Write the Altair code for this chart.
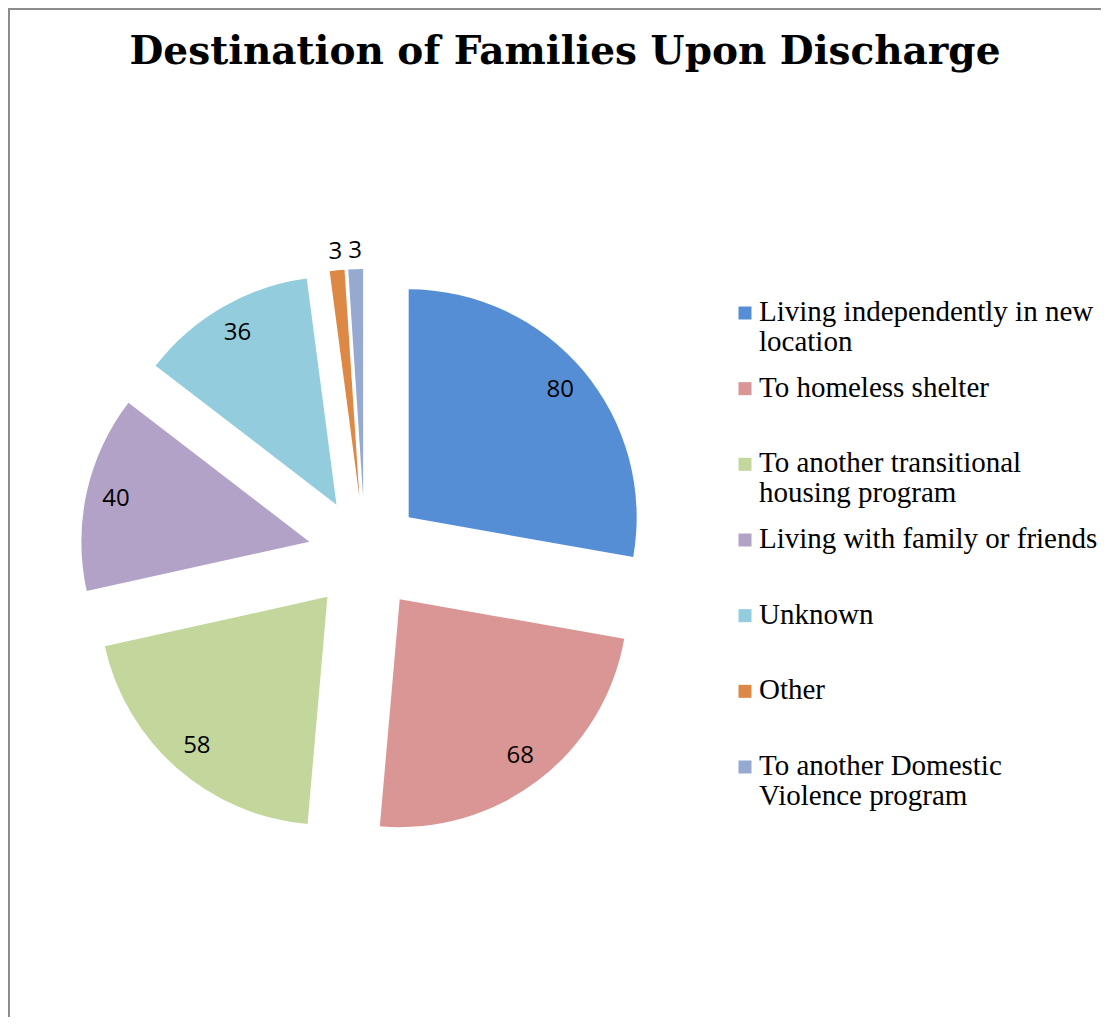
import altair as alt
import pandas as pd

title_text = "Destination of Families Upon Discharge"
categories = [
    "Living independently in new\nlocation",
    "To homeless shelter",
    "To another transitional\nhousing program",
    "Living with family or friends",
    "Unknown",
    "Other",
    "To another Domestic\nViolence program",
]
values = [80, 68, 58, 40, 36, 3, 3]
colors = ["#558ED5", "#D99694", "#C3D69B", "#B3A2C7", "#93CDDD", "#DD8844", "#95A9D1"]

W, H = 1093, 1009
CX, CY, R, EXPLODE = 357, 546, 228, 57
LABEL_IN, LABEL_OUT = 198, 246

df = pd.DataFrame({"cat": categories, "value": values, "order": list(range(len(values)))})

base = (
    alt.Chart(df)
    .transform_window(cum="sum(value)", sort=[alt.SortField("order")], frame=[None, 0])
    .transform_joinaggregate(total="sum(value)")
    .transform_calculate(
        t1="datum.cum / datum.total * 2 * PI",
        t0="(datum.cum - datum.value) / datum.total * 2 * PI",
    )
    .transform_calculate(mid="(datum.t0 + datum.t1) / 2")
    .transform_calculate(
        cx=f"{CX} + {EXPLODE} * sin(datum.mid)",
        cy=f"{CY} - {EXPLODE} * cos(datum.mid)",
        lr=f"datum.value < 10 ? {LABEL_OUT} : {LABEL_IN}",
    )
    .transform_calculate(
        lx="datum.cx + datum.lr * sin(datum.mid)",
        ly="datum.cy - datum.lr * cos(datum.mid)",
    )
)

color_scale = alt.Scale(domain=categories, range=colors)

arcs = base.mark_arc(radius=R).encode(
    x=alt.X("cx:Q", scale=None, axis=None),
    y=alt.Y("cy:Q", scale=None, axis=None),
    theta=alt.Theta("t0:Q", scale=None, stack=None),
    theta2="t1:Q",
    color=alt.Color("cat:N", scale=color_scale, legend=None),
)

labels = base.mark_text(
    font="Open Sans", fontSize=24, color="black", align="center", baseline="middle"
).encode(
    x=alt.X("lx:Q", scale=None, axis=None),
    y=alt.Y("ly:Q", scale=None, axis=None),
    text="value:Q",
)

leg_df = pd.DataFrame({"cat": categories})
leg_y = alt.Y("cat:N", scale=alt.Scale(domain=categories, range=[305, 759], padding=0), axis=None)

leg_sq = alt.Chart(leg_df).mark_square(size=169, opacity=1).encode(
    x=alt.value(737),
    y=leg_y,
    color=alt.Color("cat:N", scale=color_scale, legend=None),
)
leg_txt = alt.Chart(leg_df).mark_text(
    font="Liberation Serif", fontSize=29, color="black", align="left",
    baseline="alphabetic", dy=8, lineBreak="\n", lineHeight=30,
).encode(
    x=alt.value(751),
    y=leg_y,
    text="cat:N",
)

title = alt.Chart(pd.DataFrame({"t": [title_text]})).mark_text(
    font="DejaVu Serif", fontWeight="bold", fontSize=39, color="black",
    align="center", baseline="alphabetic",
).encode(x=alt.value(557), y=alt.value(56), text="t:N")

frame_df = pd.DataFrame({"a": [0]})
top_line = alt.Chart(frame_df).mark_rule(color="#8c8c8c", strokeWidth=2).encode(
    x=alt.value(0), x2=alt.value(W), y=alt.value(1)
)
left_line = alt.Chart(frame_df).mark_rule(color="#8c8c8c", strokeWidth=2).encode(
    x=alt.value(1), y=alt.value(0), y2=alt.value(H)
)

chart = (
    alt.layer(top_line, left_line, title, arcs, labels, leg_sq, leg_txt)
    .resolve_scale(y="independent", x="independent")
    .properties(width=W, height=H, padding=0, autosize="none", background="white")
    .configure_view(stroke=None)
)

chart.save("out.html", embed_options={"renderer": "svg", "actions": False})
